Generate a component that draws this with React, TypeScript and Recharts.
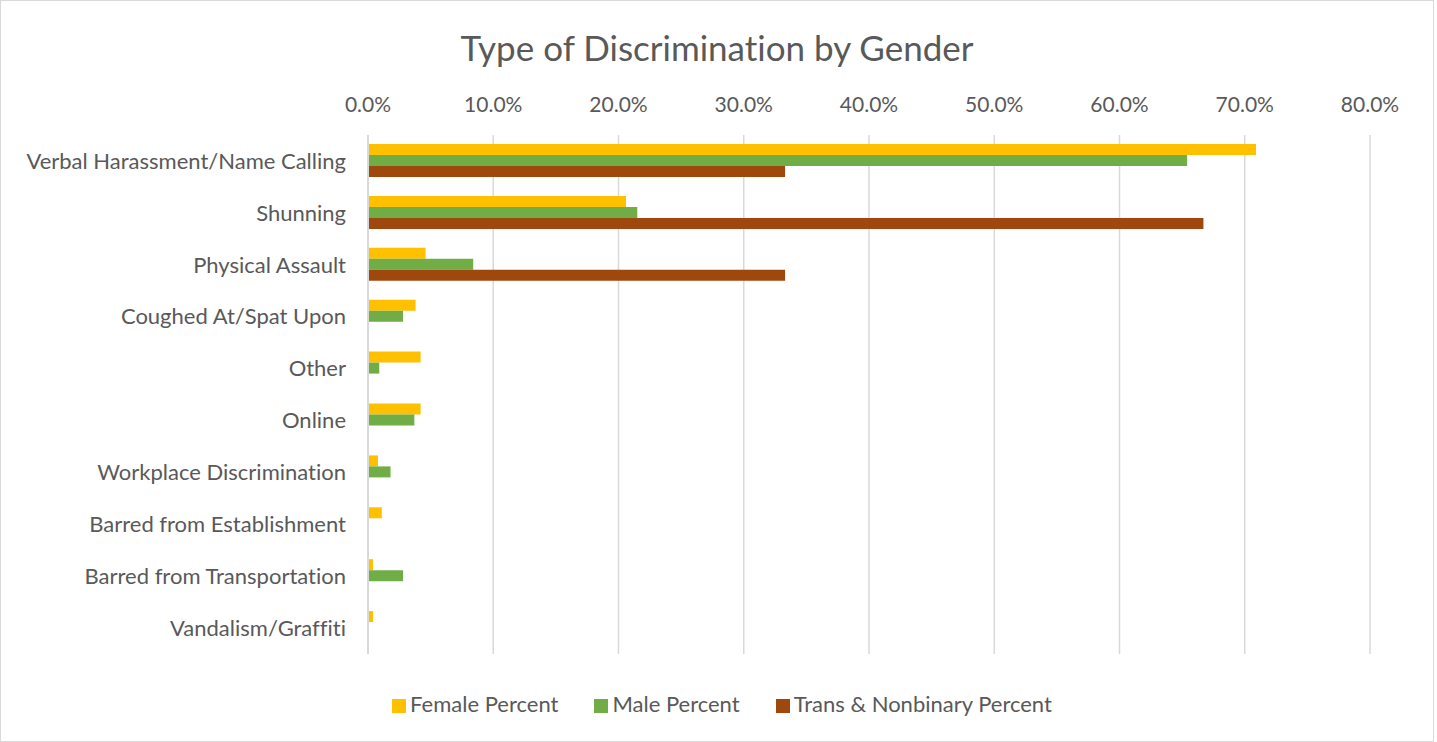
import React from 'react';
import { BarChart, Bar, XAxis, YAxis, CartesianGrid, Legend } from 'recharts';

const categories = [
  'Verbal Harassment/Name Calling',
  'Shunning',
  'Physical Assault',
  'Coughed At/Spat Upon',
  'Other',
  'Online',
  'Workplace Discrimination',
  'Barred from Establishment',
  'Barred from Transportation',
  'Vandalism/Graffiti',
];
const femalePercent = [70.9, 20.6, 4.6, 3.8, 4.2, 4.2, 0.8, 1.1, 0.4, 0.4];
const malePercent = [65.4, 21.5, 8.4, 2.8, 0.9, 3.7, 1.8, 0, 2.8, 0];
const transPercent = [33.3, 66.7, 33.3, 0, 0, 0, 0, 0, 0, 0];
const xTicks = [0, 10, 20, 30, 40, 50, 60, 70, 80];

const data = categories.map((name, i) => ({
  name,
  female: femalePercent[i],
  male: malePercent[i],
  trans: transPercent[i],
}));

const FONT = 'Lato, "Open Sans", sans-serif';
const TEXT = '#595959';

export default function App() {
  return (
    <div
      style={{
        position: 'absolute',
        left: 0,
        top: 0,
        width: 1432,
        height: 740,
        border: '1px solid #d9d9d9',
        background: '#fff',
        fontFamily: FONT,
        fontVariantLigatures: 'none',
      }}
    >
      <div
        style={{
          position: 'absolute',
          top: 25,
          left: 0,
          width: 1432,
          textAlign: 'center',
          fontSize: 35,
          color: TEXT,
        }}
      >
        Type of Discrimination by Gender
      </div>
      <BarChart
        width={1432}
        height={740}
        data={data}
        layout="vertical"
        barGap={0}
        barSize={11}
        margin={{ top: 104, right: 63, left: 0, bottom: 60 }}
      >
        <CartesianGrid horizontal={false} stroke="#d9d9d9" strokeWidth={1.5} />
        <XAxis
          type="number"
          orientation="top"
          domain={[0, 80]}
          ticks={xTicks}
          tickFormatter={(v: number) => `${v.toFixed(1)}%`}
          axisLine={false}
          tickLine={false}
          tickSize={0}
          tickMargin={23}
          height={30}
          tick={{ fill: TEXT, fontSize: 21, fontFamily: FONT }}
        />
        <YAxis
          type="category"
          dataKey="name"
          width={367}
          axisLine={{ stroke: '#d9d9d9', strokeWidth: 2 }}
          tickLine={false}
          tickSize={0}
          tickMargin={22}
          tick={{ fill: TEXT, fontSize: 22, fontFamily: FONT }}
        />
        <Legend
          verticalAlign="bottom"
          iconType="square"
          iconSize={14}
          wrapperStyle={{ top: 689, left: 10, width: 1432, fontSize: 22, fontFamily: FONT }}
          formatter={(value: string, _entry: unknown, index: number) => (
            <span style={{ color: TEXT, marginRight: index < 2 ? 26 : 0 }}>{value}</span>
          )}
        />
        <Bar dataKey="female" name="Female Percent" fill="#FFC000" isAnimationActive={false} />
        <Bar dataKey="male" name="Male Percent" fill="#70AD47" isAnimationActive={false} />
        <Bar dataKey="trans" name="Trans & Nonbinary Percent" fill="#9E480E" isAnimationActive={false} />
      </BarChart>
    </div>
  );
}
